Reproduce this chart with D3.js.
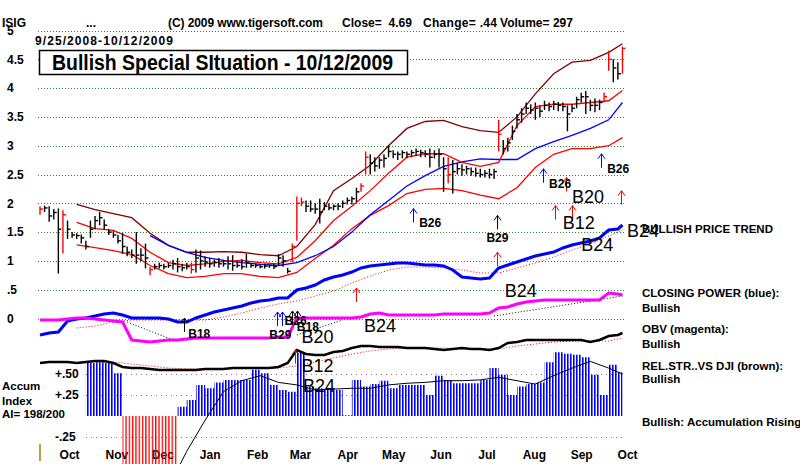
<!DOCTYPE html>
<html>
<head>
<meta charset="utf-8">
<script src="https://cdn.jsdelivr.net/npm/d3@7"></script>
<style>
  body { margin: 0; background: #fff; }
  svg { display: block; font-family: "Liberation Sans", Arial, sans-serif; }
</style>
</head>
<body>
<div id="chart"></div>
<script>
////////////////////////////////////////////////////////////////
// Data (read off the TigerSoft chart of ISIG, 9/25/2008 - 10/12/2009)

// price bars, one every 3 calendar days starting 9/25/2008
let barHigh = [1.95,1.96,1.95,1.90,1.91,1.88,1.70,1.50,1.48,1.46,
  1.35,1.70,1.78,1.85,1.72,1.55,1.52,1.45,1.48,1.25,
  1.20,1.50,1.22,1.30,0.90,0.95,0.97,0.95,0.97,1.02,
  1.05,0.95,0.97,0.97,1.20,1.18,1.08,1.05,1.02,1.05,
  1.02,1.08,1.10,1.00,1.03,1.12,0.97,0.95,0.95,0.95,
  0.95,0.95,1.12,1.10,0.88,1.30,2.12,2.10,2.05,2.05,
  2.00,2.08,2.02,2.00,1.98,2.00,2.05,2.10,2.12,2.27,
  2.35,2.90,2.85,2.80,2.80,2.85,3.00,2.92,2.90,2.92,
  2.90,2.93,2.95,2.93,2.92,2.95,2.92,2.95,2.80,2.80,
  2.75,2.70,2.68,2.65,2.62,2.62,2.60,2.58,2.60,2.60,
  3.45,3.10,3.14,3.35,3.55,3.65,3.75,3.72,3.75,3.70,
  3.78,3.75,3.78,3.76,3.75,3.70,3.72,3.85,3.92,3.95,
  3.80,3.82,3.80,3.92,4.65,4.50,4.45,4.72]
let barLow = [1.80,1.85,1.68,1.72,0.78,1.13,1.38,1.40,1.38,1.30,
  1.20,1.40,1.55,1.62,1.55,1.45,1.40,1.30,1.12,1.08,
  1.05,0.95,1.00,0.87,0.75,0.85,0.87,0.85,0.88,0.85,
  0.80,0.82,0.85,0.78,0.80,0.85,0.90,0.88,0.90,0.88,
  0.90,0.85,0.83,0.88,0.85,0.88,0.88,0.88,0.87,0.87,
  0.88,0.86,0.92,0.90,0.78,0.98,1.35,1.95,1.85,1.85,
  1.82,1.65,1.88,1.88,1.88,1.88,1.92,1.98,1.98,2.02,
  2.20,2.50,2.50,2.55,2.60,2.62,2.80,2.78,2.75,2.78,
  2.78,2.80,2.82,2.80,2.80,2.62,2.78,2.62,2.20,2.35,
  2.17,2.50,2.48,2.50,2.48,2.46,2.45,2.45,2.43,2.42,
  2.90,2.85,2.90,3.10,3.30,3.40,3.55,3.55,3.45,3.50,
  3.62,3.60,3.62,3.60,3.60,3.25,3.58,3.65,3.75,3.55,
  3.60,3.58,3.62,3.75,4.30,4.10,4.15,4.25]
let barClose = [1.90,1.92,1.78,1.84,1.55,1.80,1.55,1.45,1.44,1.40,
  1.25,1.55,1.70,1.75,1.62,1.50,1.45,1.35,1.25,1.15,
  1.10,1.10,1.10,1.05,0.85,0.90,0.92,0.90,0.92,0.95,
  0.90,0.88,0.90,0.85,1.05,1.00,0.98,0.95,0.97,0.95,
  0.95,0.95,0.92,0.92,0.90,0.97,0.92,0.92,0.90,0.91,
  0.92,0.90,1.05,1.00,0.82,1.25,2.00,2.02,1.95,1.90,
  1.90,1.85,1.95,1.92,1.95,1.95,2.00,2.05,2.08,2.20,
  2.30,2.80,2.70,2.65,2.75,2.78,2.90,2.85,2.85,2.88,
  2.85,2.88,2.90,2.88,2.85,2.80,2.85,2.85,2.60,2.50,
  2.55,2.60,2.58,2.60,2.55,2.52,2.50,2.52,2.50,2.55,
  3.20,2.95,3.05,3.25,3.45,3.55,3.65,3.62,3.65,3.60,
  3.70,3.68,3.72,3.70,3.68,3.55,3.65,3.80,3.85,3.85,
  3.70,3.70,3.75,3.85,4.50,4.35,4.25,4.69]
// bars drawn in red (big up days)
let redBars = [0,5,24,33,55,56,57,70,71,89,100,123,124,127]

// bands and moving averages, sampled every 4th bar (plus the last one)
let upperBand = [1.98,1.89,1.82,1.75,1.48,1.27,1.15,1.15,1.16,1.15,1.11,1.09,1.25,1.63,2.22,2.43,
  2.66,3.00,3.30,3.42,3.44,3.33,3.26,3.23,3.50,3.90,4.25,4.45,4.48,4.62,4.77]
let midBand = [1.67,1.56,1.53,1.39,1.15,0.97,0.92,0.95,0.99,1.01,0.97,0.95,1.06,1.35,1.70,1.95,
  2.22,2.52,2.80,2.86,2.86,2.71,2.64,2.71,3.35,3.68,3.72,3.72,3.75,3.78,3.96]
let lowerBand = [1.28,1.23,1.18,1.11,0.92,0.78,0.71,0.73,0.78,0.78,0.73,0.71,0.80,1.04,1.27,1.56,
  1.79,1.96,2.17,2.24,2.26,2.22,2.14,2.08,2.27,2.62,2.85,2.95,2.95,3.00,3.14]
let blueMA = [null,null,null,null,1.44,1.27,1.15,1.06,1.01,0.97,0.94,0.92,0.97,1.09,1.25,1.50,
  1.80,2.05,2.30,2.48,2.64,2.72,2.77,2.76,2.76,2.95,3.07,3.18,3.30,3.45,3.75]

// indicators, sampled every 2nd bar (plus the last one)
let closingPower = [5,7,8,19,21,22,24,26,27,25, 22,22,22,22,21,18,18,22,25,28,
  30,32,34,37,39,40,42,42,50,52, 55,60,63,65,68,72,74,75,76,77,
  77,76,75,75,74,70,63,62,61,62, 72,75,78,81,84,86,88,92,95,97, 99,102,110,111,115]
let obv = [25,25,25,26,27,27,26,25,24,23, 5,4,3,4,5,5,6,7,7,7,
  7,7,7,7,7,7,8,8,27,27, 27,27,27,27,27,28,31,32,30,30,
  30,30,30,30,31,31,31,31,31,32, 37,38,41,43,44,45,45,45,45,45, 45,45,52,51,50]
let relStrength = [17,18,18,18,17,18,19,19,17,13, 12,12,11,10,10,10,10,10,11,11,
  11,12,12,12,12,12,13,17,30,26, 25,25,28,29,32,34,34,33,33,33,
  32,32,32,31,30,31,32,31,31,30, 32,37,38,40,40,40,40,40,40,40, 38,40,44,45,47]
let accumIndex = [0,0,0,0,0,0.63,0.64,0.63,0.51,-0.7, -0.7,-0.7,-0.7,-0.7,-0.7,0.11,0.19,0.37,0.33,0.40,
  0.43,0.43,0.43,0.55,0.51,0.37,0.31,0.29,0.75,0.35, 0.33,0.32,0.31,0.01,0.43,0.35,0.38,0.42,0.33,0.37,
  0.37,0.37,0.25,0.48,0.43,0.39,0.39,0.39,0.43,0.57, 0.49,0.25,0.35,0.38,0.40,0.64,0.76,0.74,0.73,0.70,
  0.49,0.25,0.61,0.52,0.48]

// indicator moving averages, every 4th bar like the bands
let cpMA = [12,14,18,20,20,20,20,20,23,27,32,36,39,44,49,57,64,70,73,73,72,70,67,67,72,77,83,90,96,104,110]
let rsMA = [17,18,18,16,14,12,11,11,11,12,12,12,14,18,22,26,29,31,32,32,32,31,31,31,34,36,38,39,39,39,42]
let aiMA = [null,null,null,null,null,-0.85,-0.42,-0.05,0.29,0.42,0.48,0.40,0.37,0.31,0.32,0.33,
  0.33,0.37,0.39,0.40,0.42,0.42,0.43,0.46,0.42,0.38,0.48,0.57,0.65,0.57,0.50]

// dotted trend lines on the OBV line: [start bar, start value, end bar, end value]
let obvTrends = [[19,23,29,5],[56,10,66,25],[99,29,127,49]]

// buy signals
let priceArrows = [
  {date:"2009-05-27", value:1.91, color:"#0000ff"},
  {date:"2009-07-21", value:1.79, color:"#000000"},
  {date:"2009-07-21", value:1.15, color:"#ff0000"},
  {date:"2009-08-20", value:2.60, color:"#0000ff"},
  {date:"2009-08-28", value:1.96, color:"#ff0000"},
  {date:"2009-09-04", value:2.45, color:"#ff0000"},
  {date:"2009-09-08", value:1.96, color:"#ff0000"},
  {date:"2009-09-27", value:2.86, color:"#0000ff"},
  {date:"2009-10-10", value:2.22, color:"#ff0000"}]
let cpArrows = [
  {date:"2008-12-28", value:22, color:"#000000"},
  {date:"2009-02-27", value:28, color:"#0000ff"},
  {date:"2009-03-02", value:28, color:"#0000ff"},
  {date:"2009-03-09", value:29, color:"#000000"},
  {date:"2009-03-12", value:29, color:"#000000"},
  {date:"2009-04-20", value:52, color:"#ff0000"}]
let aiArrows = [{date:"2009-03-11", value:0.79, color:"#ff0000"}]

let priceLabels = [
  {text:"B26", date:"2009-05-31", value:1.58, big:false},
  {text:"B29", date:"2009-07-14", value:1.32, big:false},
  {text:"B26", date:"2009-08-24", value:2.27, big:false},
  {text:"B20", date:"2009-09-08", value:2.00, big:true},
  {text:"B12", date:"2009-09-02", value:1.55, big:true},
  {text:"B24", date:"2009-09-14", value:1.18, big:true},
  {text:"B26", date:"2009-10-01", value:2.52, big:false},
  {text:"B24", date:"2009-10-14", value:1.42, big:true}]
let cpLabels = [
  {text:"B18", date:"2008-12-31", value:2, big:false},
  {text:"B29", date:"2009-02-22", value:1, big:false},
  {text:"B26", date:"2009-03-04", value:15, big:false},
  {text:"B18", date:"2009-03-12", value:9, big:false},
  {text:"B20", date:"2009-03-15", value:-3, big:true},
  {text:"B24", date:"2009-04-25", value:8, big:true},
  {text:"B24", date:"2009-07-26", value:43, big:true}]
let aiLabels = [
  {text:"B12", date:"2009-03-15", value:0.52, big:true},
  {text:"B24", date:"2009-03-16", value:0.29, big:true}]

let priceTicks = [0,0.5,1,1.5,2,2.5,3,3.5,4,4.5,5]
let aiTicks = [0.5,0.25,-0.25]


////////////////////////////////////////////////////////////////
// Setup

let width = 800, height = 464
let svg = d3.select("#chart").append("svg")
  .attr("width", width)
  .attr("height", height)

let parseDate = d3.timeParse("%Y-%m-%d")
let startDate = parseDate("2008-09-25")
let endDate = parseDate("2009-10-12")
let barDate = i => d3.timeDay.offset(startDate, 3*i)

let x = d3.scaleTime().domain([startDate, endDate]).range([40, 624])
let yPrice = d3.scaleLinear().domain([0, 5]).range([318.5, 30.5])
let yCP = d3.scaleLinear().domain([0, 120]).range([340, 220])
let yOBV = d3.scaleLinear().domain([0, 50]).range([345, 295])
let yRS = d3.scaleLinear().domain([0, 50]).range([380, 330])
let yAI = d3.scaleLinear().domain([0, 0.5]).range([416, 374])

let bandBars = d3.range(8, 128, 4).concat([127])
let indBars = d3.range(0, 128, 2).concat([127])

function series(bars, values) {
  return values.map((v, j) => ({date: barDate(bars[j]), v: v}))
}

function drawLine(data, yScale, color, w, dash) {
  let line = d3.line()
    .defined(d => d.v != null)
    .x(d => x(d.date))
    .y(d => yScale(d.v))
  svg.append("path")
    .datum(data)
    .attr("d", line)
    .attr("fill", "none")
    .attr("stroke", color)
    .attr("stroke-width", w)
    .attr("stroke-dasharray", dash || null)
}


////////////////////////////////////////////////////////////////
// Gridlines and axes

svg.append("g")
  .selectAll("line")
  .data(priceTicks)
  .enter()
  .append("line")
  .attr("x1", 38).attr("x2", 624)
  .attr("y1", d => Math.round(yPrice(d)) + 0.5)
  .attr("y2", d => Math.round(yPrice(d)) + 0.5)
  .attr("stroke", "#2f8a2f")
  .attr("stroke-dasharray", "1,2")

svg.append("g")
  .selectAll("line")
  .data(aiTicks)
  .enter()
  .append("line")
  .attr("x1", 86).attr("x2", 624)
  .attr("y1", d => Math.round(yAI(d)) + 0.5)
  .attr("y2", d => Math.round(yAI(d)) + 0.5)
  .attr("stroke", "#c06080")
  .attr("stroke-dasharray", "1,4")

let priceAxis = d3.axisRight(yPrice)
  .tickValues(priceTicks)
  .tickSize(0)
  .tickPadding(7)
  .tickFormat(d => d === 0.5 ? ".5" : String(d))
svg.append("g")
  .call(priceAxis)
  .call(g => g.select(".domain").remove())
  .selectAll("text")
  .attr("font-family", "Liberation Sans, Arial, sans-serif")
  .attr("font-size", 12).attr("font-weight", "bold").attr("fill", "#000")

let aiAxis = d3.axisRight(yAI)
  .tickValues(aiTicks)
  .tickSize(0)
  .tickPadding(7)
  .tickFormat(d => (d > 0 ? "+" : "-") + d3.format(".2f")(Math.abs(d)).slice(1))
svg.append("g")
  .attr("transform", "translate(48,0)")
  .call(aiAxis)
  .call(g => g.select(".domain").remove())
  .selectAll("text")
  .attr("font-family", "Liberation Sans, Arial, sans-serif")
  .attr("font-size", 12).attr("font-weight", "bold").attr("fill", "#000")

// month labels in the middle of each month
let monthTicks = d3.timeMonth.range(parseDate("2008-10-01"), parseDate("2009-10-02"))
  .map(d => d3.timeDay.offset(d, 13))
let xAxis = d3.axisBottom(x)
  .tickValues(monthTicks)
  .tickSize(0)
  .tickPadding(3)
  .tickFormat(d3.timeFormat("%b"))
svg.append("g")
  .attr("transform", "translate(0,447)")
  .call(xAxis)
  .call(g => g.select(".domain").remove())
  .selectAll("text")
  .attr("font-family", "Liberation Sans, Arial, sans-serif")
  .attr("font-size", 12).attr("font-weight", "bold").attr("fill", "#000")

svg.append("line")
  .attr("x1", x(startDate)).attr("x2", x(startDate))
  .attr("y1", 444).attr("y2", 461)
  .attr("stroke", "#8a8a00").attr("stroke-width", 1.5)


////////////////////////////////////////////////////////////////
// Accumulation index histogram (vertical line look via patterns)

let defs = svg.append("defs")
defs.append("pattern")
  .attr("id", "aiBlue").attr("patternUnits", "userSpaceOnUse")
  .attr("width", 3).attr("height", 10)
  .append("rect").attr("width", 1.6).attr("height", 10).attr("fill", "#0000ff")
defs.append("pattern")
  .attr("id", "aiRed").attr("patternUnits", "userSpaceOnUse")
  .attr("width", 3.3).attr("height", 10)
  .append("rect").attr("width", 1.3).attr("height", 10).attr("fill", "#ff0000")

let aiData = series(indBars, accumIndex)
let aiArea = d3.area()
  .curve(d3.curveStepAfter)
  .x(d => x(d.date))
  .y0(yAI(0))
svg.append("path")
  .datum(aiData)
  .attr("d", aiArea.y1(d => yAI(Math.max(d.v, 0))))
  .attr("fill", "url(#aiBlue)")
svg.append("path")
  .datum(aiData)
  .attr("d", aiArea.y1(d => yAI(Math.min(d.v, 0))))
  .attr("fill", "url(#aiRed)")

drawLine(series(bandBars, aiMA), yAI, "#000", 1)


////////////////////////////////////////////////////////////////
// Price bands and bars

drawLine(series(bandBars, upperBand), yPrice, "#800000", 1.3)
drawLine(series(bandBars, lowerBand), yPrice, "#ff0000", 1.3)
drawLine(series(bandBars, blueMA), yPrice, "#0000ff", 1.3)
drawLine(series(bandBars, midBand), yPrice, "#ff0000", 1.3)

let bars = svg.append("g")
  .selectAll("g")
  .data(barClose)
  .enter()
  .append("g")
  .attr("stroke", (d, i) => redBars.includes(i) ? "#ff0000" : "#000")
  .attr("stroke-width", 1.4)
bars.append("line")
  .attr("x1", (d, i) => x(barDate(i))).attr("x2", (d, i) => x(barDate(i)))
  .attr("y1", (d, i) => yPrice(barHigh[i]))
  .attr("y2", (d, i) => yPrice(barLow[i]))
bars.append("line")
  .attr("x1", (d, i) => x(barDate(i))).attr("x2", (d, i) => x(barDate(i)) + 3)
  .attr("y1", d => yPrice(d)).attr("y2", d => yPrice(d))


////////////////////////////////////////////////////////////////
// Closing power, OBV, relative strength

drawLine(series(bandBars, cpMA), yCP, "#ff0000", 1, "1,2")
drawLine(series(bandBars, rsMA), yRS, "#ff0000", 1, "1,2")
obvTrends.forEach(t => {
  drawLine([{date: barDate(t[0]), v: t[1]}, {date: barDate(t[2]), v: t[3]}], yOBV, "#000", 1, "1,2")
})
drawLine(series(indBars, closingPower), yCP, "#0000ff", 3)
drawLine(series(indBars, obv), yOBV, "#ff00ff", 3)
drawLine(series(indBars, relStrength), yRS, "#000", 2.5)


////////////////////////////////////////////////////////////////
// Signals

function drawArrows(list, yScale) {
  list.forEach(a => {
    let cx = Math.round(x(parseDate(a.date))) + 0.5
    let ty = yScale(a.value)
    svg.append("path")
      .attr("d", `M${cx},${ty + 14}V${ty}M${cx - 3.5},${ty + 5}L${cx},${ty}L${cx + 3.5},${ty + 5}`)
      .attr("fill", "none")
      .attr("stroke", a.color)
      .attr("stroke-width", 1)
  })
}
function drawLabels(list, yScale) {
  list.forEach(l => {
    svg.append("text")
      .attr("x", x(parseDate(l.date)))
      .attr("y", yScale(l.value))
      .attr("font-size", l.big ? 18 : 12)
      .attr("font-weight", l.big ? "normal" : "bold")
      .text(l.text)
  })
}
drawArrows(priceArrows, yPrice)
drawArrows(cpArrows, yCP)
drawArrows(aiArrows, yAI)
drawLabels(priceLabels, yPrice)
drawLabels(cpLabels, yCP)
drawLabels(aiLabels, yAI)


////////////////////////////////////////////////////////////////
// Header, title box and side notes

let header = svg.append("g")
  .attr("font-size", 12)
  .attr("font-weight", "bold")
header.append("text").attr("x", 2).attr("y", 27).text("ISIG")
header.append("text").attr("x", 86).attr("y", 27).text("...")
header.append("text").attr("x", 168).attr("y", 27)
  .attr("textLength", 155).text("(C) 2009 www.tigersoft.com")
header.append("text").attr("x", 342).attr("y", 27)
  .attr("textLength", 70).attr("xml:space", "preserve").text("Close=  4.69")
header.append("text").attr("x", 423).attr("y", 27)
  .attr("textLength", 74).text("Change= .44")
header.append("text").attr("x", 500).attr("y", 27)
  .attr("textLength", 73).text("Volume= 297")
header.append("text").attr("x", 35).attr("y", 45)
  .attr("textLength", 138).text("9/25/2008-10/12/2009")

svg.append("rect")
  .attr("x", 39.5).attr("y", 50.5)
  .attr("width", 368).attr("height", 24)
  .attr("fill", "#fff").attr("stroke", "#000").attr("stroke-width", 1.5)
svg.append("text")
  .attr("x", 52).attr("y", 70)
  .attr("font-size", 22).attr("font-weight", "bold")
  .attr("textLength", 341).attr("lengthAdjust", "spacingAndGlyphs")
  .text("Bullish Special SItuation - 10/12/2009")

let notes = svg.append("g")
  .attr("font-size", 11.5)
  .attr("font-weight", "bold")
let noteLines = [
  ["BULLISH PRICE TREND", 642, 233],
  ["CLOSING POWER (blue):", 642, 297],
  ["Bullish", 642, 312],
  ["OBV (magenta):", 642, 333],
  ["Bullish", 642, 348],
  ["REL.STR..VS DJI (brown):", 642, 370],
  ["Bullish", 642, 383],
  ["Bullish: Accumulation Rising", 642, 426],
  ["Accum", 2, 390],
  ["Index", 2, 405],
  ["AI= 198/200", 2, 418]]
notes.selectAll("text")
  .data(noteLines)
  .enter()
  .append("text")
  .attr("x", d => d[1])
  .attr("y", d => d[2])
  .text(d => d[0])
</script>
</body>
</html>
